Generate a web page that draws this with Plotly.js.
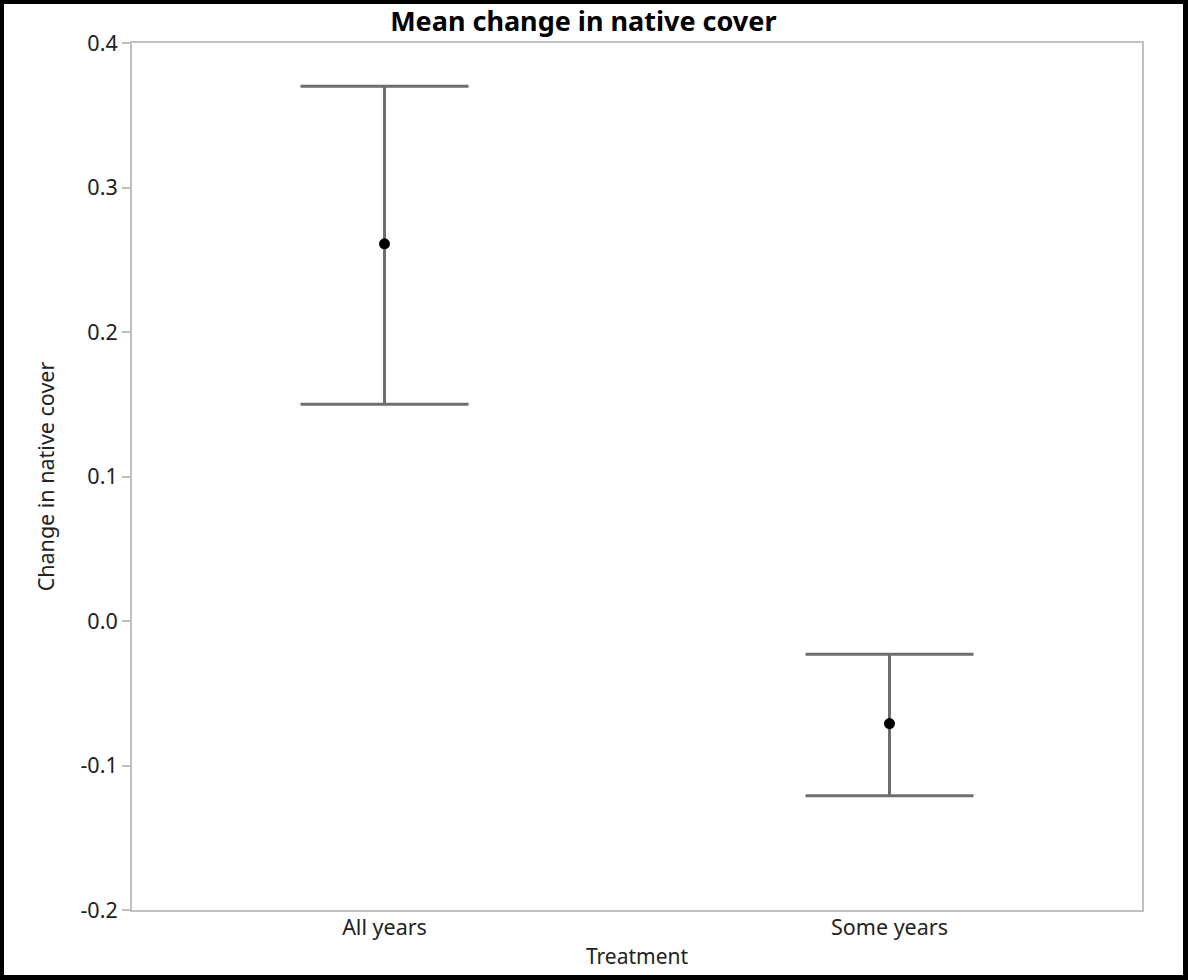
<!DOCTYPE html>
<html>
<head>
<meta charset="utf-8">
<script src="https://cdn.plot.ly/plotly-3.0.1.min.js"></script>
<style>
html,body{margin:0;padding:0;background:#fff;}
#wrap{position:relative;width:1188px;height:980px;}
#chart{position:absolute;left:0;top:0;width:1188px;height:980px;}
#frame{position:absolute;left:0;top:0;width:1188px;height:980px;box-sizing:border-box;border-style:solid;border-color:#000;border-width:4px 5px 5px 4px;pointer-events:none;}
</style>
</head>
<body>
<div id="wrap"><div id="chart"></div><div id="frame"></div></div>
<script>
const categories = ["All years", "Some years"];
const means = [0.261, -0.071];
const upper = [0.370, -0.023];
const lower = [0.150, -0.121];
const yTicks = [-0.2, -0.1, 0.0, 0.1, 0.2, 0.3, 0.4];
const yTickLabels = ["-0.2", "-0.1", "0.0", "0.1", "0.2", "0.3", "0.4"];

const errPlus = means.map((m, i) => upper[i] - m);
const errMinus = means.map((m, i) => m - lower[i]);

const font = "Noto Sans, Open Sans, sans-serif";
const trace = {
  type: "scatter",
  mode: "markers",
  x: categories,
  y: means,
  marker: {color: "#000", size: 11},
  error_y: {
    type: "data",
    symmetric: false,
    array: errPlus,
    arrayminus: errMinus,
    color: "#6e6e6e",
    thickness: 3,
    width: 84
  },
  hoverinfo: "x+y"
};

const layout = {
  width: 1188,
  height: 980,
  margin: {l: 132, r: 46, t: 43, b: 70},
  paper_bgcolor: "#fff",
  plot_bgcolor: "#fff",
  showlegend: false,
  title: {
    text: "<b>Mean change in native cover</b>",
    font: {family: font, size: 27, color: "#000"},
    x: 0.491, xanchor: "center", xref: "container",
    y: 0.978, yanchor: "middle", yref: "container"
  },
  xaxis: {
    type: "category",
    range: [-0.5, 1.5],
    showgrid: false,
    zeroline: false,
    showline: true,
    linecolor: "#c0c0c0",
    linewidth: 2,
    mirror: true,
    ticks: "",
    ticklabelstandoff: -3,
    tickfont: {family: font, size: 21.5, color: "#222"},
    title: {text: "Treatment", font: {family: font, size: 21, color: "#222"}, standoff: 10}
  },
  yaxis: {
    range: [-0.2, 0.4],
    tickvals: yTicks,
    ticktext: yTickLabels,
    ticksuffix: "\u2009",
    showgrid: false,
    zeroline: false,
    showline: true,
    linecolor: "#c0c0c0",
    linewidth: 2,
    mirror: true,
    ticks: "outside",
    ticklen: 8,
    tickcolor: "#c0c0c0",
    tickwidth: 2,
    tickfont: {family: font, size: 21.5, color: "#222"},
    title: {text: "Change in native cover", font: {family: font, size: 21.5, color: "#222"}, standoff: 20}
  }
};

Plotly.newPlot("chart", [trace], layout, {displayModeBar: false, staticPlot: true});
</script>
</body>
</html>
